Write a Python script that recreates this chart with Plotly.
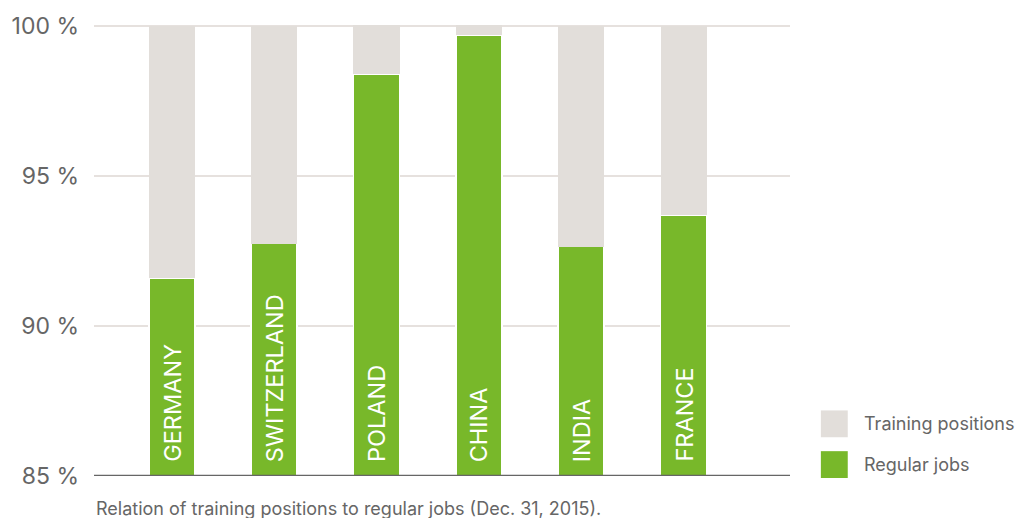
import plotly.graph_objects as go

countries = ["GERMANY", "SWITZERLAND", "POLAND", "CHINA", "INDIA", "FRANCE"]
regular_jobs = [91.6, 92.75, 98.4, 99.7, 92.65, 93.7]
training_positions = [8.4, 7.25, 1.65, 0.35, 7.35, 6.3]
y_ticks = [85, 90, 95, 100]
y_tick_labels = ["85 %", "90 %", "95 %", "100 %"]
series_names = ["Training positions", "Regular jobs"]
caption = "Relation of training positions to regular jobs (Dec. 31, 2015)."

GREEN = "#78b82a"
GREY = "#e2deda"
TEXT = "#666666"
FONT = "Inter"

xs = list(range(len(countries)))

fig = go.Figure()
fig.add_trace(go.Bar(
    x=xs, y=regular_jobs, name=series_names[1], width=0.45,
    marker=dict(color=GREEN, line=dict(color="white", width=1.5)),
    showlegend=False,
))
fig.add_trace(go.Bar(
    x=xs, y=training_positions, name=series_names[0], width=0.45,
    marker=dict(color=GREY, line=dict(width=0)),
    showlegend=False,
))

for x, c in zip(xs, countries):
    fig.add_annotation(
        x=x, y=85, xref="x", yref="y", text=c, textangle=-90,
        showarrow=False, yanchor="bottom", xanchor="center", yshift=12,
        font=dict(family=FONT, size=23.5, color="white"),
    )

# legend (manual, to match large swatches)
leg_colors = [GREY, GREEN]
for i, (name, col) in enumerate(zip(series_names, leg_colors)):
    y0 = 518 - 410 - i * 41
    fig.add_shape(type="rect", xref="paper", yref="paper",
                  x0=(821 - 91) / 699, x1=(848 - 91) / 699,
                  y0=(y0 - 27 - 42) / 459, y1=(y0 - 42) / 459,
                  fillcolor=col, line=dict(width=0))
    fig.add_annotation(xref="paper", yref="paper",
                       x=(862 - 91) / 699, y=(y0 - 13.5 - 42) / 459,
                       text=name, showarrow=False, xanchor="left", yanchor="middle",
                       font=dict(family=FONT, size=18, color=TEXT))

fig.add_annotation(xref="paper", yref="paper", x=(91 - 91) / 699, y=(518 - 509 - 42) / 459,
                   text=caption, showarrow=False, xanchor="left", yanchor="middle",
                   font=dict(family=FONT, size=18, color=TEXT))

fig.update_layout(
    width=1019, height=518,
    margin=dict(l=91, r=229, t=17, b=42, pad=0),
    barmode="stack",
    plot_bgcolor="white", paper_bgcolor="white",
    xaxis=dict(range=[-0.76, 6.04], showticklabels=False, showgrid=False,
               zeroline=False, showline=False, ticks=""),
    yaxis=dict(range=[85, 100.2], tickvals=y_ticks, ticktext=y_tick_labels,
               showgrid=True, gridcolor="#e6e1de", gridwidth=1.5,
               zeroline=False, showline=False, ticks="", ticklabelstandoff=14,
               tickfont=dict(family=FONT, size=23, color=TEXT)),
    font=dict(family=FONT, color=TEXT),
)
fig.add_shape(type="line", xref="paper", yref="y", x0=0, x1=1, y0=85, y1=85,
              line=dict(color="#666666", width=2.5))

fig.write_html("out.html", config={"displayModeBar": False},
               post_script="document.body.style.margin='0';document.body.style.overflow='hidden';")
